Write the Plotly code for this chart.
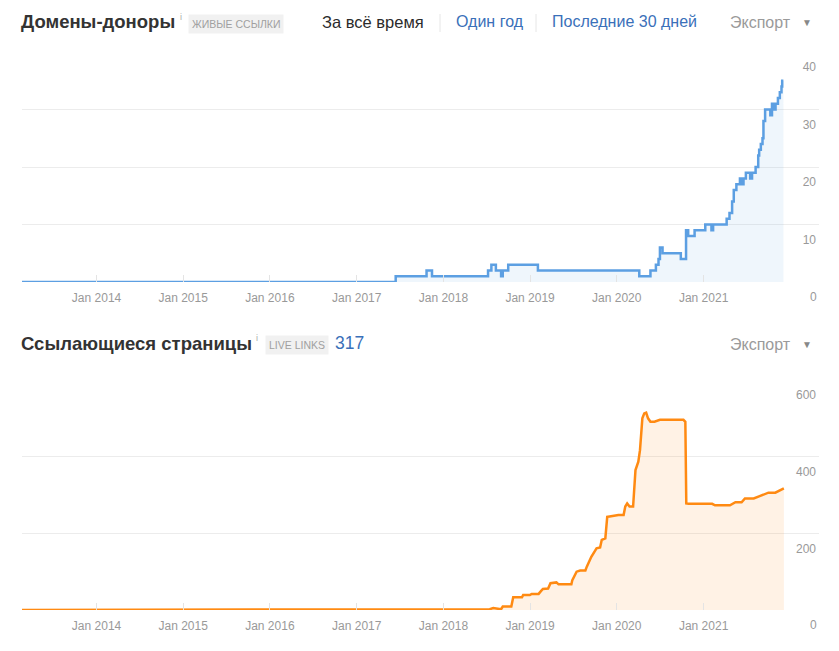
import plotly.graph_objects as go

# ---------------- data ----------------
domains_dates = ["2013-02-21", "2017-06-14", "2017-10-22", "2017-11-14", "2018-07-08", "2018-07-22",
                 "2018-08-10", "2018-09-01", "2018-09-08", "2018-10-01", "2019-02-03", "2020-04-05",
                 "2020-05-22", "2020-06-14", "2020-06-25", "2020-07-01", "2020-07-12", "2020-09-27",
                 "2020-10-19", "2020-10-28", "2020-11-24", "2021-01-08", "2021-02-03", "2021-02-10",
                 "2021-04-08", "2021-04-20", "2021-05-01", "2021-05-08", "2021-05-19", "2021-06-03",
                 "2021-06-10", "2021-06-18", "2021-06-28", "2021-07-16", "2021-07-24", "2021-08-08",
                 "2021-08-19", "2021-08-23", "2021-08-30", "2021-09-06", "2021-09-10", "2021-09-17",
                 "2021-10-09", "2021-10-16", "2021-10-23", "2021-10-31", "2021-11-10", "2021-11-18",
                 "2021-11-25", "2021-11-28", "2021-12-03"]
domains_values = [0, 1, 2, 1, 2, 3,
                  2, 1, 2, 3, 2, 1,
                  2, 3, 4, 6, 5, 4,
                  9, 8, 9, 10, 9, 10,
                  11, 12, 14, 16, 17, 18,
                  17, 18, 19, 18, 19, 20,
                  22, 23, 24, 25, 28, 30,
                  29, 31, 30, 31, 32, 33,
                  34, 35, 35]

pages_dates = ["2013-02-21", "2017-06-14", "2017-12-01", "2018-07-15", "2018-07-30", "2018-09-01",
               "2018-09-08", "2018-10-14", "2018-10-22", "2018-11-28", "2018-12-03", "2018-12-31",
               "2019-01-08", "2019-02-06", "2019-02-14", "2019-02-24", "2019-03-18", "2019-03-28",
               "2019-04-22", "2019-05-01", "2019-06-24", "2019-06-28", "2019-07-16", "2019-07-31",
               "2019-08-22", "2019-08-28", "2019-09-16", "2019-10-08", "2019-10-23", "2019-10-30",
               "2019-11-14", "2019-11-22", "2019-12-02", "2020-01-08", "2020-01-30", "2020-02-06",
               "2020-02-14", "2020-02-24", "2020-03-10", "2020-03-20", "2020-04-01", "2020-04-08",
               "2020-04-18", "2020-04-26", "2020-05-04", "2020-05-12", "2020-05-22", "2020-06-08",
               "2020-07-01", "2020-10-08", "2020-10-16", "2020-10-20", "2020-10-30", "2020-12-31",
               "2021-01-15", "2021-02-06", "2021-02-18", "2021-04-22", "2021-05-15", "2021-06-10",
               "2021-06-24", "2021-07-31", "2021-08-25", "2021-10-01", "2021-10-30", "2021-11-18",
               "2021-12-05"]
pages_values = [0, 1, 2, 2, 5, 2,
                9, 9, 33, 33, 39, 39,
                42, 42, 48, 55, 56, 70,
                72, 67, 67, 78, 100, 103,
                103, 113, 139, 161, 163, 183,
                187, 243, 244, 248, 248, 270,
                278, 270, 270, 365, 387, 417,
                500, 513, 515, 500, 491, 491,
                496, 496, 491, 278, 277, 277,
                278, 277, 273, 273, 281, 281,
                291, 291, 297, 306, 306, 311,
                317]

domains_ticks = [0, 10, 20, 30, 40]
pages_ticks = [0, 200, 400, 600]
year_ticks = ["2014-01-01", "2015-01-01", "2016-01-01", "2017-01-01",
              "2018-01-01", "2019-01-01", "2020-01-01", "2021-01-01"]
x_range = ["2013-02-21", "2022-05-02"]

# ---------------- figure ----------------
OFF = 8            # page body margin of the html page
W, H = 839 - OFF, 651 - OFF
FONT = "Liberation Sans, Arial, sans-serif"
BLUE = "#5c9fe2"
ORANGE = "#ff8a12"
GRID = "#ececec"
LABEL = "#999999"

fig = go.Figure()
fig.add_trace(go.Scatter(x=domains_dates, y=domains_values, mode="lines",
                         line=dict(color=BLUE, width=2.5, shape="hv"),
                         fill="tozeroy", fillcolor="rgba(98,163,227,0.10)",
                         xaxis="x", yaxis="y", hoverinfo="skip"))
fig.add_trace(go.Scatter(x=pages_dates, y=pages_values, mode="lines",
                         line=dict(color=ORANGE, width=2.5),
                         fill="tozeroy", fillcolor="rgba(255,138,18,0.11)",
                         xaxis="x2", yaxis="y2", hoverinfo="skip"))

def px_x(v):
    return (v - OFF) / W

def px_y(v):
    return 1 - (v - OFF) / H

xdom = [px_x(22), px_x(819)]
xcommon = dict(type="date", range=x_range, domain=xdom, showgrid=False, zeroline=False,
               tickvals=year_ticks, tickformat="%b %Y",
               ticks="inside", ticklen=7, tickcolor="#e4e4e4", tickwidth=1,
               tickfont=dict(family=FONT, size=12, color=LABEL),
               ticklabelstandoff=7, fixedrange=True)
ycommon = dict(side="right", ticklabelposition="inside", showgrid=True, gridcolor=GRID,
               gridwidth=1, zeroline=False, showline=False, ticks="",
               tickfont=dict(family=FONT, size=12, color=LABEL),
               ticklabelshift=15, fixedrange=True)

fig.update_layout(
    width=W, height=H, margin=dict(l=0, r=0, t=0, b=0),
    paper_bgcolor="white", plot_bgcolor="white", showlegend=False,
    xaxis=dict(**xcommon, anchor="y"),
    yaxis=dict(**ycommon, domain=[px_y(282), px_y(52)], range=[0, 40],
               tickvals=domains_ticks, anchor="x"),
    xaxis2=dict(**xcommon, anchor="y2"),
    yaxis2=dict(**ycommon, domain=[px_y(610), px_y(380)], range=[0, 600],
                tickvals=pages_ticks, anchor="x2"),
)

# the zero labels sit below the plot area, where plotly hides shifted tick labels
for yref, ticks in (("y", domains_ticks), ("y2", pages_ticks)):
    fig.add_annotation(x=px_x(819), xref="paper", y=ticks[0], yref=yref, yshift=-15,
                       text=str(ticks[0]), showarrow=False, xanchor="right", yanchor="middle",
                       font=dict(family=FONT, size=12, color=LABEL))

def txt(x, y, s, size, color, bold=False, xanchor="left", bg=None, pad=0):
    fig.add_annotation(x=px_x(x), y=px_y(y), xref="paper", yref="paper",
                       text=("<b>%s</b>" % s) if bold else s, showarrow=False,
                       xanchor=xanchor, yanchor="middle",
                       font=dict(family=FONT, size=size, color=color),
                       bgcolor=bg, borderpad=pad)

DARK = "#333333"
LINK = "#3a70b9"
# top header
txt(20, 22, "Домены-доноры", 18.5, DARK, bold=True)
txt(179, 17, "i", 9, "#aaaaaa")
txt(188, 24, "ЖИВЫЕ ССЫЛКИ", 10.5, "#a0a0a0", bg="#f1f1f1", pad=3)
txt(321, 22, "За всё время", 16.5, "#2b2b2b")
txt(455, 22, "Один год", 16, LINK)
txt(551, 22, "Последние 30 дней", 16, LINK)
txt(729, 23, "Экспорт", 16, "#9a9a9a")
txt(801, 23, "▼", 10, "#888888")
for sx in (440, 536):
    fig.add_shape(type="line", xref="paper", yref="paper",
                  x0=px_x(sx), x1=px_x(sx), y0=px_y(14), y1=px_y(32),
                  line=dict(color="#e6e6e6", width=1))

# bottom header
txt(20, 343, "Ссылающиеся страницы", 18.5, DARK, bold=True)
txt(255, 338, "i", 9, "#aaaaaa")
txt(265, 345, "LIVE LINKS", 10.5, "#a0a0a0", bg="#f1f1f1", pad=3)
txt(334, 343, "317", 17.5, LINK)
txt(729, 344, "Экспорт", 16, "#9a9a9a")
txt(801, 344, "▼", 10, "#888888")

fig.write_html("out.html")
